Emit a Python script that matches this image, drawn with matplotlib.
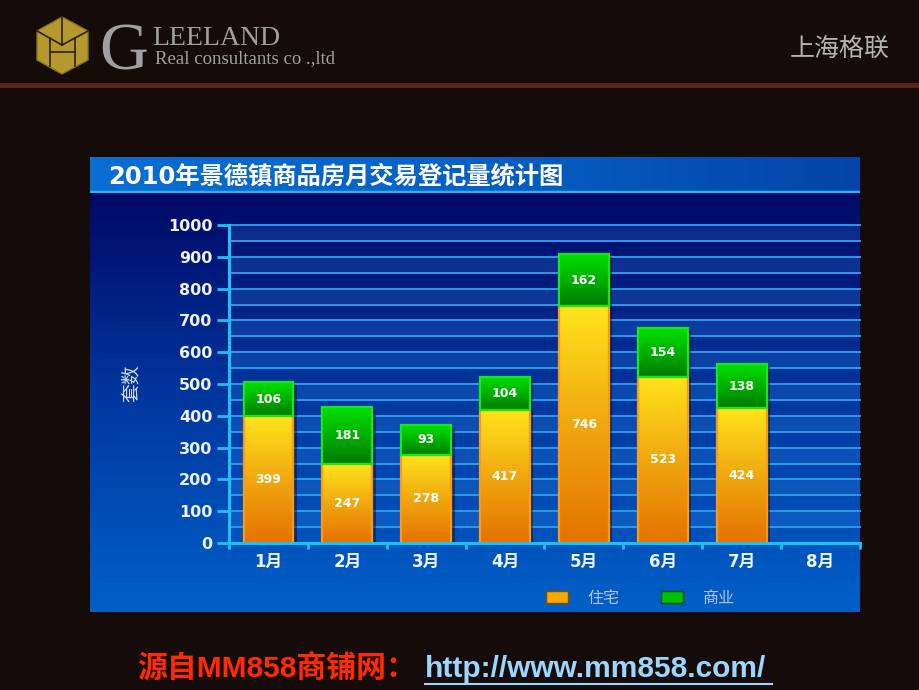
import matplotlib
matplotlib.use("Agg")
import matplotlib.pyplot as plt
from matplotlib.patches import Polygon, Patch
from matplotlib.lines import Line2D
from matplotlib.colors import LinearSegmentedColormap
import numpy as np

plt.rcParams['font.family'] = ['DejaVu Sans', 'Noto Sans CJK SC']

# data
months = ['1月', '2月', '3月', '4月', '5月', '6月', '7月', '8月']
residential = [399, 247, 278, 417, 746, 523, 424]
commercial = [106, 181, 93, 104, 162, 154, 138]
yticks = [0, 100, 200, 300, 400, 500, 600, 700, 800, 900, 1000]
title = '2010年景德镇商品房月交易登记量统计图'
legend_labels = ['住宅', '商业']

W, H = 920, 690
def fx(x): return x / W
def fy(y): return 1 - y / H

fig = plt.figure(figsize=(9.2, 6.9), dpi=100, facecolor='#150b09')

# header
fig.add_artist(Line2D([0, 1], [fy(85), fy(85)], color='#5e2418', lw=3.5))
logo = [(37, 31), (62, 17), (88, 31), (88, 60), (62, 74), (37, 60)]
fig.add_artist(Polygon([(fx(a), fy(b)) for a, b in logo], closed=True,
                       facecolor='#b49a2c', edgecolor='#8a741c', lw=1))
for seg in [[(62, 17), (62, 45)], [(37, 31), (62, 45)], [(62, 45), (88, 31)],
            [(50, 38), (50, 66)], [(75, 38), (75, 66)], [(50, 52), (75, 52)]]:
    fig.add_artist(Line2D([fx(p[0]) for p in seg], [fy(p[1]) for p in seg],
                          color='#2a2008', lw=1.2))
fig.text(fx(99), fy(70), 'G', family='Liberation Serif', fontsize=49,
         color='#a0a0a0', va='baseline')
fig.text(fx(152), fy(45), 'LEELAND', family='Liberation Serif', fontsize=20,
         color='#a0a0a0', va='baseline')
fig.text(fx(155), fy(63), 'Real consultants co .,ltd', family='Liberation Serif',
         fontsize=13.5, color='#a0a0a0', va='baseline')
fig.text(fx(890), fy(49), '上海格联', family=['Noto Sans CJK SC'], fontsize=18,
         color='#b4b4b4', va='center', ha='right')

# chart panel background
ax_bg = fig.add_axes([fx(90), fy(612), fx(770), (612 - 193) / H])
vgrad = np.linspace(0, 1, 256).reshape(-1, 1)
ax_bg.imshow(vgrad, aspect='auto', cmap=LinearSegmentedColormap.from_list(
    'bg', ['#000866', '#0038a0', '#0060c8']), extent=[0, 1, 0, 1])
ax_bg.axis('off')

ax_tb = fig.add_axes([fx(90), fy(193), fx(770), 36 / H])
hgrad = np.linspace(0, 1, 256).reshape(1, -1)
ax_tb.imshow(hgrad, aspect='auto', cmap=LinearSegmentedColormap.from_list(
    'tb', ['#0a6ed2', '#0660c4', '#0444a8']), extent=[0, 1, 0, 1])
ax_tb.axis('off')
ax_tb.axhline(0.02, color='#28b4f4', lw=2.5)
ax_tb.text(0.024, 0.45, title, transform=ax_tb.transAxes, fontsize=17.5,
           fontweight='bold', color='white', va='center', ha='left')

# main axes
ax = fig.add_axes([fx(229), fy(543), fx(631), 318 / H])
ax.patch.set_alpha(0)
x = np.arange(len(months))

for k in range(20):
    if k % 2 == 1:
        ax.axhspan(k * 50, k * 50 + 50, color='#3a8ae8', alpha=0.22, lw=0, zorder=0)
for v in range(50, 1001, 50):
    ax.axhline(v, color='#2a9ae8', lw=1.4, zorder=1, clip_on=False)

bw = 0.63
res_cmap = LinearSegmentedColormap.from_list('res', ['#e47200', '#f0a810', '#ffe41c'])
com_cmap = LinearSegmentedColormap.from_list('com', ['#007800', '#00b000', '#00e000'])
grad = np.linspace(0, 1, 256).reshape(-1, 1)
xr = x[:len(residential)]

# shadows
ax.bar(xr + 0.045, np.add(residential, commercial), bw, bottom=-8,
       color='#000830', alpha=0.45, zorder=2)
b1 = ax.bar(xr, residential, bw, facecolor='none', edgecolor='#ff9a10', lw=1.6, zorder=4)
b2 = ax.bar(xr, commercial, bw, bottom=residential, facecolor='none',
            edgecolor='#18e818', lw=1.6, zorder=4)
for bars, cmap in [(b1, res_cmap), (b2, com_cmap)]:
    for p in bars:
        x0, y0 = p.get_x(), p.get_y()
        im = ax.imshow(grad, cmap=cmap, origin='lower', aspect='auto', zorder=3,
                       extent=[x0, x0 + p.get_width(), y0, y0 + p.get_height()])
        im.set_clip_path(p)

for i in range(len(residential)):
    ax.text(x[i], residential[i] / 2, str(residential[i]), ha='center', va='center',
            color='white', fontsize=9, fontweight='bold', zorder=5)
    ax.text(x[i], residential[i] + commercial[i] / 2, str(commercial[i]), ha='center',
            va='center', color='white', fontsize=9, fontweight='bold', zorder=5)

ax.set_xlim(-0.5, len(months) - 0.5)
ax.set_ylim(0, 1000)
ax.set_yticks(yticks)
ax.set_yticklabels([str(v) for v in yticks], fontsize=11.5, fontweight='bold', color='#eef2fa')
ax.set_xticks(x)
ax.set_xticklabels(months, fontsize=12, fontweight='bold', color='#eef2fa')
ax.set_xticks(np.arange(-0.5, len(months)), minor=True)
ax.tick_params(axis='y', direction='out', length=9, width=2, color='#1ec0f4', pad=3)
ax.tick_params(axis='x', which='major', length=0, pad=7)
ax.tick_params(axis='x', which='minor', direction='out', length=4, width=2, color='#1ec0f4')
for s in ['top', 'right']:
    ax.spines[s].set_visible(False)
for s in ['left', 'bottom']:
    ax.spines[s].set_color('#1ec0f4')
    ax.spines[s].set_linewidth(2.2)
    ax.spines[s].set_zorder(6)

fig.text(fx(131), fy(383), '套数', rotation=90, fontsize=13.5, color='#d4dcf0',
         va='center', ha='center', family=['Noto Sans CJK SC'])

handles = [Patch(facecolor='#f4a800', edgecolor='#7a5000', lw=1),
           Patch(facecolor='#00c000', edgecolor='#004800', lw=1)]
fig.legend(handles, legend_labels, ncol=2, loc='center',
           bbox_to_anchor=(fx(640), fy(598)), frameon=False, handlelength=1.4,
           handleheight=0.8, columnspacing=2.6, handletextpad=1.2,
           labelcolor='#b4c4e4', prop={'family': ['Noto Sans CJK SC'], 'size': 11.5})

# footer
fig.text(fx(137), fy(677), '源自MM858商铺网：', family=['Liberation Sans', 'Noto Sans CJK SC'],
         fontsize=21.5, fontweight='bold', color='#ff2a00', va='baseline')
fig.text(fx(425), fy(677), 'http://www.mm858.com/', family=['Liberation Sans'],
         fontsize=21.5, fontweight='bold', color='#9ad6ff', va='baseline')
fig.add_artist(Line2D([fx(425), fx(772)], [fy(684), fy(684)], color='#9ad6ff', lw=1.5))

fig.savefig('out.png', dpi=100, facecolor=fig.get_facecolor())
